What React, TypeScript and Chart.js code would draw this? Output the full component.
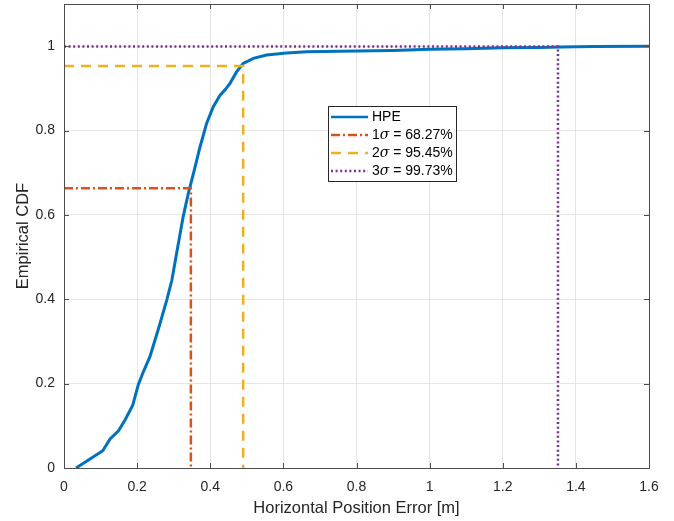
import React, { useEffect, useRef } from "react";
import { Chart, registerables } from "chart.js";

Chart.register(...registerables);

const hpeX = [0.033, 0.07, 0.106, 0.126, 0.149, 0.167, 0.188, 0.203, 0.217, 0.235, 0.26, 0.281, 0.295, 0.308, 0.326, 0.34, 0.354, 0.372, 0.39, 0.408, 0.427, 0.44, 0.454, 0.472, 0.49, 0.518, 0.554, 0.609, 0.664, 0.755, 0.9, 1.0, 1.1, 1.2, 1.3, 1.36, 1.45, 1.6];
const hpeY = [0, 0.021, 0.041, 0.069, 0.088, 0.114, 0.149, 0.197, 0.228, 0.264, 0.335, 0.398, 0.445, 0.509, 0.596, 0.651, 0.698, 0.761, 0.817, 0.856, 0.884, 0.896, 0.912, 0.939, 0.959, 0.971, 0.979, 0.984, 0.987, 0.988, 0.99, 0.993, 0.994, 0.996, 0.997, 0.998, 0.999, 1.0];

const sigmaLabels = ["1", "2", "3"];
const sigmaPercents = ["68.27%", "95.45%", "99.73%"];
const sigmaX = [0.347, 0.49, 1.351];
const sigmaY = [0.663, 0.953, 0.999];

const COLORS = ["#0072BD", "#D95319", "#EDB120", "#7E2F8E"];
const DASHES: number[][] = [[], [9, 3, 2, 3], [10, 7], [2, 2.6]];
const FONT = "'Liberation Sans', Arial, Helvetica, sans-serif";
const AXIS_COLOR = "#262626";

const fmt = (v: any) => String(Number(Number(v).toFixed(1)));

const boxPlugin = {
  id: "matlabBox",
  afterDatasetsDraw(chart: any) {
    const { ctx, chartArea: a, scales } = chart;
    ctx.save();
    ctx.strokeStyle = "#4d4d4d";
    ctx.lineWidth = 1;
    const tl = 5;
    scales.x.ticks.forEach((t: any) => {
      const px = Math.round(scales.x.getPixelForValue(t.value)) + 0.5;
      ctx.beginPath();
      ctx.moveTo(px, a.bottom);
      ctx.lineTo(px, a.bottom - tl);
      ctx.moveTo(px, a.top);
      ctx.lineTo(px, a.top + tl);
      ctx.stroke();
    });
    scales.y.ticks.forEach((t: any) => {
      const py = Math.round(scales.y.getPixelForValue(t.value)) + 0.5;
      ctx.beginPath();
      ctx.moveTo(a.left, py);
      ctx.lineTo(a.left + tl, py);
      ctx.moveTo(a.right, py);
      ctx.lineTo(a.right - tl, py);
      ctx.stroke();
    });
    ctx.strokeRect(Math.round(a.left) + 0.5, Math.round(a.top) + 0.5, Math.round(a.right - a.left), Math.round(a.bottom - a.top));
    ctx.restore();
  },
  afterDraw(chart: any) {
    const { ctx, chartArea: a } = chart;
    ctx.save();
    const bx = a.left + 264;
    const by = a.top + 102;
    const bw = 128;
    const bh = 75;
    ctx.fillStyle = "#ffffff";
    ctx.fillRect(bx, by, bw, bh);
    ctx.strokeStyle = "#262626";
    ctx.lineWidth = 1;
    ctx.strokeRect(Math.round(bx) + 0.5, Math.round(by) + 0.5, bw, bh);
    const rowY = [11, 29, 47, 65];
    const entries = [
      { pre: "HPE", sig: "", post: "" },
      ...sigmaLabels.map((s, i) => ({ pre: s, sig: "σ", post: " = " + sigmaPercents[i] })),
    ];
    entries.forEach((e, i) => {
      const y = by + rowY[i];
      ctx.strokeStyle = COLORS[i];
      ctx.lineWidth = 2.5;
      ctx.setLineDash(DASHES[i]);
      ctx.beginPath();
      ctx.moveTo(bx + 3, y);
      ctx.lineTo(bx + 40, y);
      ctx.stroke();
      ctx.setLineDash([]);
      ctx.fillStyle = "#000";
      ctx.textBaseline = "middle";
      ctx.textAlign = "left";
      let tx = bx + 44;
      ctx.font = `14px ${FONT}`;
      ctx.fillText(e.pre, tx, y);
      tx += ctx.measureText(e.pre).width;
      if (e.sig) {
        ctx.font = `italic 14px 'DejaVu Serif', serif`;
        ctx.fillText(e.sig, tx, y);
        tx += ctx.measureText(e.sig).width;
        ctx.font = `14px ${FONT}`;
        ctx.fillText(e.post, tx, y);
      }
    });
    ctx.restore();
  },
};

export default function App() {
  const ref = useRef<HTMLCanvasElement>(null);
  useEffect(() => {
    if (!ref.current) return;
    const hpeData = hpeX.map((x, i) => ({ x, y: hpeY[i] }));
    const sigmaSets = sigmaX.map((sx, i) => ({
      label: sigmaLabels[i] + "σ = " + sigmaPercents[i],
      data: [
        { x: 0, y: sigmaY[i] },
        { x: sx, y: sigmaY[i] },
        { x: sx, y: 0 },
      ],
      borderColor: COLORS[i + 1],
      borderDash: DASHES[i + 1],
      borderWidth: 2.5,
      showLine: true,
      pointRadius: 0,
      tension: 0,
    }));
    const chart = new Chart(ref.current, {
      type: "scatter",
      data: {
        datasets: [
          ...sigmaSets,
          {
            label: "HPE",
            data: hpeData,
            borderColor: COLORS[0],
            borderWidth: 3,
            showLine: true,
            pointRadius: 0,
            tension: 0,
          },
        ],
      },
      options: {
        responsive: false,
        animation: false,
        layout: { padding: { left: 0, top: 4, right: 25, bottom: 0 } },
        plugins: { legend: { display: false }, tooltip: { enabled: false } },
        scales: {
          x: {
            type: "linear",
            min: 0,
            max: 1.6,
            ticks: { stepSize: 0.2, color: AXIS_COLOR, font: { family: FONT, size: 14 }, padding: 11, maxRotation: 0, callback: fmt },
            grid: { color: "#e5e5e5", drawTicks: false },
            border: { display: false },
            title: { display: true, text: "Horizontal Position Error [m]", color: AXIS_COLOR, font: { family: FONT, size: 16.5 }, padding: { top: 0, bottom: 3 } },
            afterFit: (s: any) => { s.height = 53; s.paddingLeft = 0; s.paddingRight = 0; },
          },
          y: {
            type: "linear",
            min: 0,
            max: 1.1,
            ticks: { stepSize: 0.2, includeBounds: false, color: AXIS_COLOR, font: { family: FONT, size: 14 }, padding: 9, callback: fmt },
            afterBuildTicks: (s: any) => { s.ticks = s.ticks.filter((t: any) => t.value <= 1.0001); },
            grid: { color: "#e5e5e5", drawTicks: false },
            border: { display: false },
            title: { display: true, text: "Empirical CDF", color: AXIS_COLOR, font: { family: FONT, size: 16.5 }, padding: { top: 14, bottom: 0 } },
            afterFit: (s: any) => { s.width = 64; s.paddingTop = 0; s.paddingBottom = 0; },
          },
        },
      },
      plugins: [boxPlugin],
    } as any);
    return () => chart.destroy();
  }, []);
  return (
    <div style={{ position: "absolute", left: 0, top: 0, width: 674, height: 521, background: "#fff" }}>
      <canvas ref={ref} width={674} height={521} style={{ width: 674, height: 521 }} />
    </div>
  );
}
